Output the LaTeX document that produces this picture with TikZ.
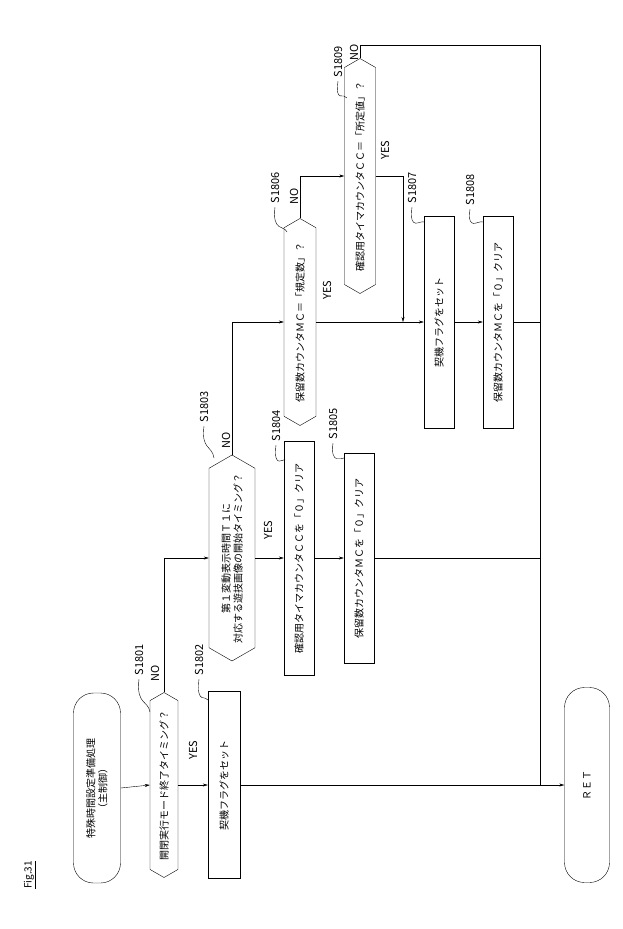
\documentclass[tikz,border=0pt]{standalone}
\usepackage{fontspec}
\setmainfont{Noto Sans CJK JP}
\usetikzlibrary{shapes.symbols,arrows.meta}
\begin{document}
\begin{tikzpicture}[x=1pt,y=-1pt,
  every node/.style={rotate=90,font=\fontsize{10}{12}\selectfont},
  box/.style={draw,thin,rectangle,inner sep=1pt},
  dec/.style={draw,thin,signal,signal to=east and west,signal pointer angle=120,inner sep=1pt},
  term/.style={draw,thin,rectangle,rounded corners=20pt},
  lab/.style={font=\fontsize{11}{12}\selectfont},
  arr/.style={thin,-{Stealth[length=5pt,width=3pt]}},
  ln/.style={thin},
  sq/.style={thin}]
\useasboundingbox (0,0) rectangle (622,929);
% nodes
\node[term,minimum width=190pt,minimum height=47pt,align=center] (start) at (97,788) {特殊時間設定準備処理\\（主制御）};
\node[dec,minimum width=185pt,minimum height=28pt] (d1) at (164,785) {開閉実行モード終了タイミング？};
\node[box,minimum width=187pt,minimum height=32pt] (b1) at (224,785) {契機フラグをセット};
\node[dec,minimum width=206pt,minimum height=46pt,align=center] (d2) at (232,558) {第１変動表示時間Ｔ１に\\対応する遊技画像の開始タイミング？};
\node[box,minimum width=234pt,minimum height=30pt] (b2) at (299,558) {確認用タイマカウンタＣＣを「０」クリア};
\node[box,minimum width=210pt,minimum height=30pt] (b3) at (359,558) {保留数カウンタＭＣを「０」クリア};
\node[dec,minimum width=207pt,minimum height=32pt] (d3) at (300,322) {保留数カウンタＭＣ＝「規定数」？};
\node[dec,minimum width=235pt,minimum height=31pt] (d4) at (360,176) {確認用タイマカウンタＣＣ＝「所定値」？};
\node[box,minimum width=212pt,minimum height=30pt] (b4) at (439,322) {契機フラグをセット};
\node[box,minimum width=212pt,minimum height=30pt] (b5) at (498,322) {保留数カウンタＭＣを「０」クリア};
\node[term,minimum width=195pt,minimum height=45pt] (ret) at (587,785) {ＲＥＴ};
\coordinate (j1) at (540,785);
\coordinate (j2) at (403,322);
\coordinate (t1) at (360,45);
% connectors
\draw[arr] (start.south) -- (d1.north);
\draw[arr] (d1.south) -- (b1.north);
\draw[arr] (b1.south) -- (ret.north);
\draw[arr] (d1.east) |- (d2.north);
\draw[arr] (d2.south) -- (b2.north);
\draw[arr] (b2.south) -- (b3.north);
\draw[ln] (b3.south) -- (b3.south -| j1);
\draw[arr] (d2.east) |- (d3.north);
\draw[arr] (d3.south) -- (b4.north);
\draw[arr] (d3.east) |- (d4.north);
\draw[arr] (d4.south) -| (j2);
\draw[arr] (b4.south) -- (b5.north);
\draw[ln] (b5.south) -- (b5.south -| j1);
\draw[ln] (d4.east) -- (t1) -| (j1);
% labels
\node[lab] (l1) at (139,660) {S1801};
\node[lab] (l2) at (199,660) {S1802};
\node[lab] (l3) at (204,407) {S1803};
\node[lab] (l4) at (276,426) {S1804};
\node[lab] (l5) at (333,424) {S1805};
\node[lab] (l6) at (275,188) {S1806};
\node[lab] (l7) at (412,188) {S1807};
\node[lab] (l8) at (470,190) {S1808};
\node[lab] (l9) at (338,62) {S1809};
\draw[sq] (l1.west) .. controls (136,705) and (148,700) .. (150,712);
\draw[sq] (l2.west) .. controls (196,705) and (206,695) .. (208,700);
\draw[sq] (l3.west) .. controls (201,450) and (212,445) .. (214,458);
\draw[sq] (l4.west) .. controls (273,470) and (284,458) .. (285,460);
\draw[sq] (l5.west) .. controls (330,465) and (342,458) .. (344,458);
\draw[sq] (l6.west) .. controls (272,232) and (284,225) .. (287,232);
\draw[sq] (l7.west) .. controls (409,232) and (420,220) .. (424,222);
\draw[sq] (l8.west) .. controls (467,232) and (478,220) .. (483,222);
\draw[sq] (l9.west) .. controls (335,104) and (344,92) .. (347,98);
\node[lab] (n1) at (155,673) {NO};
\node[lab] (n2) at (226,440) {NO};
\node[lab] (n3) at (294,196) {NO};
\node[lab] (n4) at (354,52) {NO};
\node[lab] (y1) at (193,750) {YES};
\node[lab] (y2) at (268,530) {YES};
\node[lab] (y3) at (327,290) {YES};
\node[lab] (y4) at (385,150) {YES};
\node[font=\itshape\fontsize{10}{12}\selectfont] (fig) at (30,875) {\underline{Fig.31}};
\end{tikzpicture}
\end{document}
